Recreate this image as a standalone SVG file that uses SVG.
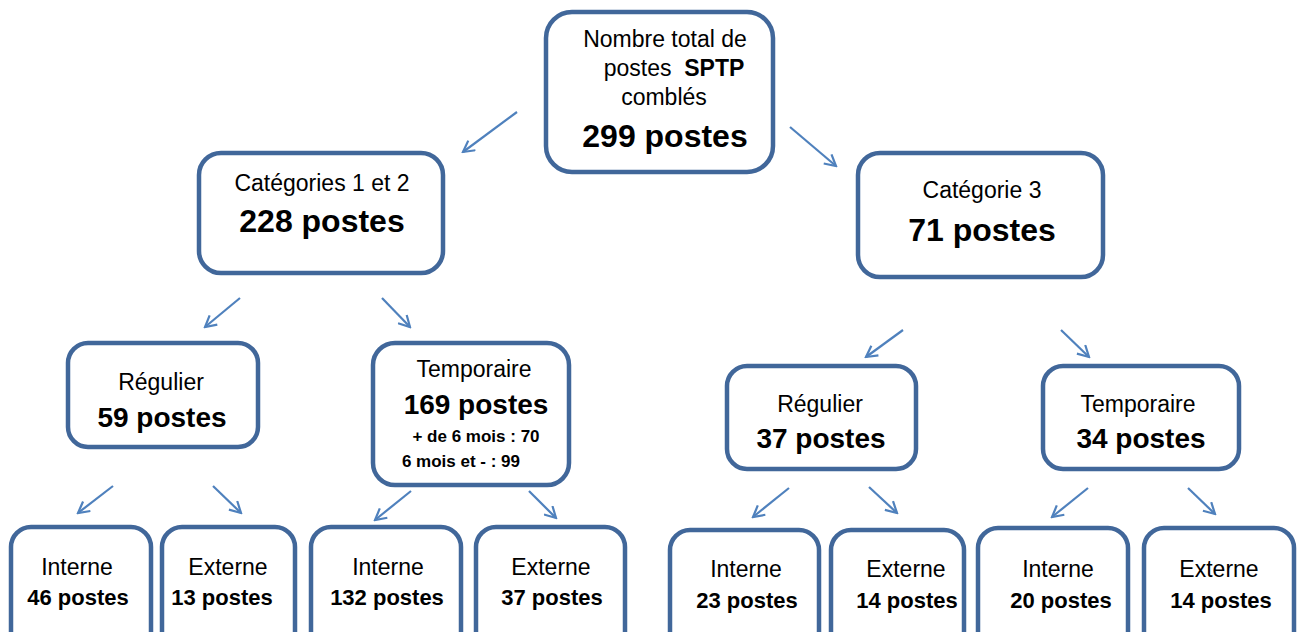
<svg xmlns="http://www.w3.org/2000/svg" width="1302" height="632" viewBox="0 0 1302 632">
<defs>
<style>
.box{fill:#fff;stroke:#41679a;stroke-width:4.5}
.t{font-family:"Liberation Sans",Arial,sans-serif;fill:#000;text-anchor:middle}
.r{font-size:23px}
.rb{font-size:23px}
.b{font-size:22px;font-weight:bold}
.big{font-size:32px;font-weight:bold}
.mid{font-size:28px;font-weight:bold}
.sm{font-size:17px;font-weight:bold}
.ar{stroke:#4f81bd;stroke-width:2.2;fill:none;marker-end:url(#ah)}
</style>
<marker id="ah" viewBox="0 0 14 14" refX="12" refY="7" markerWidth="14" markerHeight="14" markerUnits="userSpaceOnUse" orient="auto">
<path d="M1,1 L12,7 L1,13" fill="none" stroke="#4f81bd" stroke-width="2.2"/>
</marker>
</defs>
<rect width="1302" height="632" fill="#fff"/>
<g id="connectors">
<line class="ar" x1="517" y1="112" x2="463" y2="152"/>
<line class="ar" x1="790" y1="127" x2="836" y2="166"/>
<line class="ar" x1="240" y1="298" x2="205" y2="327"/>
<line class="ar" x1="382" y1="298" x2="410" y2="327"/>
<line class="ar" x1="903" y1="330" x2="866" y2="357"/>
<line class="ar" x1="1061" y1="330" x2="1089" y2="357"/>
<line class="ar" x1="113" y1="486" x2="78" y2="513"/>
<line class="ar" x1="213" y1="486" x2="241" y2="513"/>
<line class="ar" x1="411" y1="491" x2="375" y2="520"/>
<line class="ar" x1="529" y1="491" x2="556" y2="518"/>
<line class="ar" x1="789" y1="488" x2="753" y2="517"/>
<line class="ar" x1="869" y1="487" x2="897" y2="513"/>
<line class="ar" x1="1088" y1="488" x2="1052" y2="517"/>
<line class="ar" x1="1188" y1="488" x2="1215" y2="514"/>
</g>
<g id="n-total">
<rect class="box" x="546" y="12" width="227" height="160" rx="26"/>
<text class="t r" x="665" y="47">Nombre total de</text>
<text class="t r" x="674" y="76">postes&#160;&#160;<tspan font-weight="bold">SPTP</tspan></text>
<text class="t r" x="664" y="105">comblés</text>
<text class="t big" x="665" y="147">299 postes</text>
</g>
<g id="n-cat12">
<rect class="box" x="199" y="153" width="244" height="120" rx="22"/>
<text class="t r" x="322" y="191">Catégories 1 et 2</text>
<text class="t big" x="322" y="232">228 postes</text>
</g>
<g id="n-cat3">
<rect class="box" x="858" y="153" width="245" height="124" rx="22"/>
<text class="t r" x="982" y="198">Catégorie 3</text>
<text class="t big" x="982" y="241">71 postes</text>
</g>
<g id="n-reg1">
<rect class="box" x="68" y="343" width="190" height="104" rx="20"/>
<text class="t r" x="161" y="390">Régulier</text>
<text class="t mid" x="162" y="427">59 postes</text>
</g>
<g id="n-temp1">
<rect class="box" x="373" y="343" width="196" height="142" rx="22"/>
<text class="t r" x="474" y="377">Temporaire</text>
<text class="t mid" x="476" y="414">169 postes</text>
<text class="t sm" x="476" y="442">+ de 6 mois : 70</text>
<text class="t sm" x="461" y="467">6 mois et - : 99</text>
</g>
<g id="n-reg3">
<rect class="box" x="727" y="366" width="189" height="103" rx="20"/>
<text class="t r" x="820" y="412">Régulier</text>
<text class="t mid" x="821" y="448">37 postes</text>
</g>
<g id="n-temp3">
<rect class="box" x="1043" y="366" width="196" height="103" rx="20"/>
<text class="t r" x="1138" y="412">Temporaire</text>
<text class="t mid" x="1141" y="448">34 postes</text>
</g>
<g id="n-int46">
<rect class="box" x="11" y="527" width="140" height="125" rx="20"/>
<text class="t r" x="77" y="575">Interne</text>
<text class="t b" x="78" y="605">46 postes</text>
</g>
<g id="n-ext13">
<rect class="box" x="162" y="527" width="133" height="125" rx="20"/>
<text class="t r" x="228" y="575">Externe</text>
<text class="t b" x="222" y="605">13 postes</text>
</g>
<g id="n-int132">
<rect class="box" x="311" y="527" width="150" height="125" rx="20"/>
<text class="t r" x="388" y="575">Interne</text>
<text class="t b" x="387" y="605">132 postes</text>
</g>
<g id="n-ext37">
<rect class="box" x="476" y="527" width="149" height="125" rx="20"/>
<text class="t r" x="551" y="575">Externe</text>
<text class="t b" x="552" y="605">37 postes</text>
</g>
<g id="n-int23">
<rect class="box" x="670" y="530" width="149" height="125" rx="20"/>
<text class="t r" x="746" y="577">Interne</text>
<text class="t b" x="747" y="608">23 postes</text>
</g>
<g id="n-ext14a">
<rect class="box" x="831" y="530" width="133" height="125" rx="20"/>
<text class="t r" x="906" y="577">Externe</text>
<text class="t b" x="907" y="608">14 postes</text>
</g>
<g id="n-int20">
<rect class="box" x="978" y="528" width="150" height="125" rx="20"/>
<text class="t r" x="1058" y="577">Interne</text>
<text class="t b" x="1061" y="608">20 postes</text>
</g>
<g id="n-ext14b">
<rect class="box" x="1144" y="528" width="150" height="125" rx="20"/>
<text class="t r" x="1219" y="577">Externe</text>
<text class="t b" x="1221" y="608">14 postes</text>
</g>
</svg>
